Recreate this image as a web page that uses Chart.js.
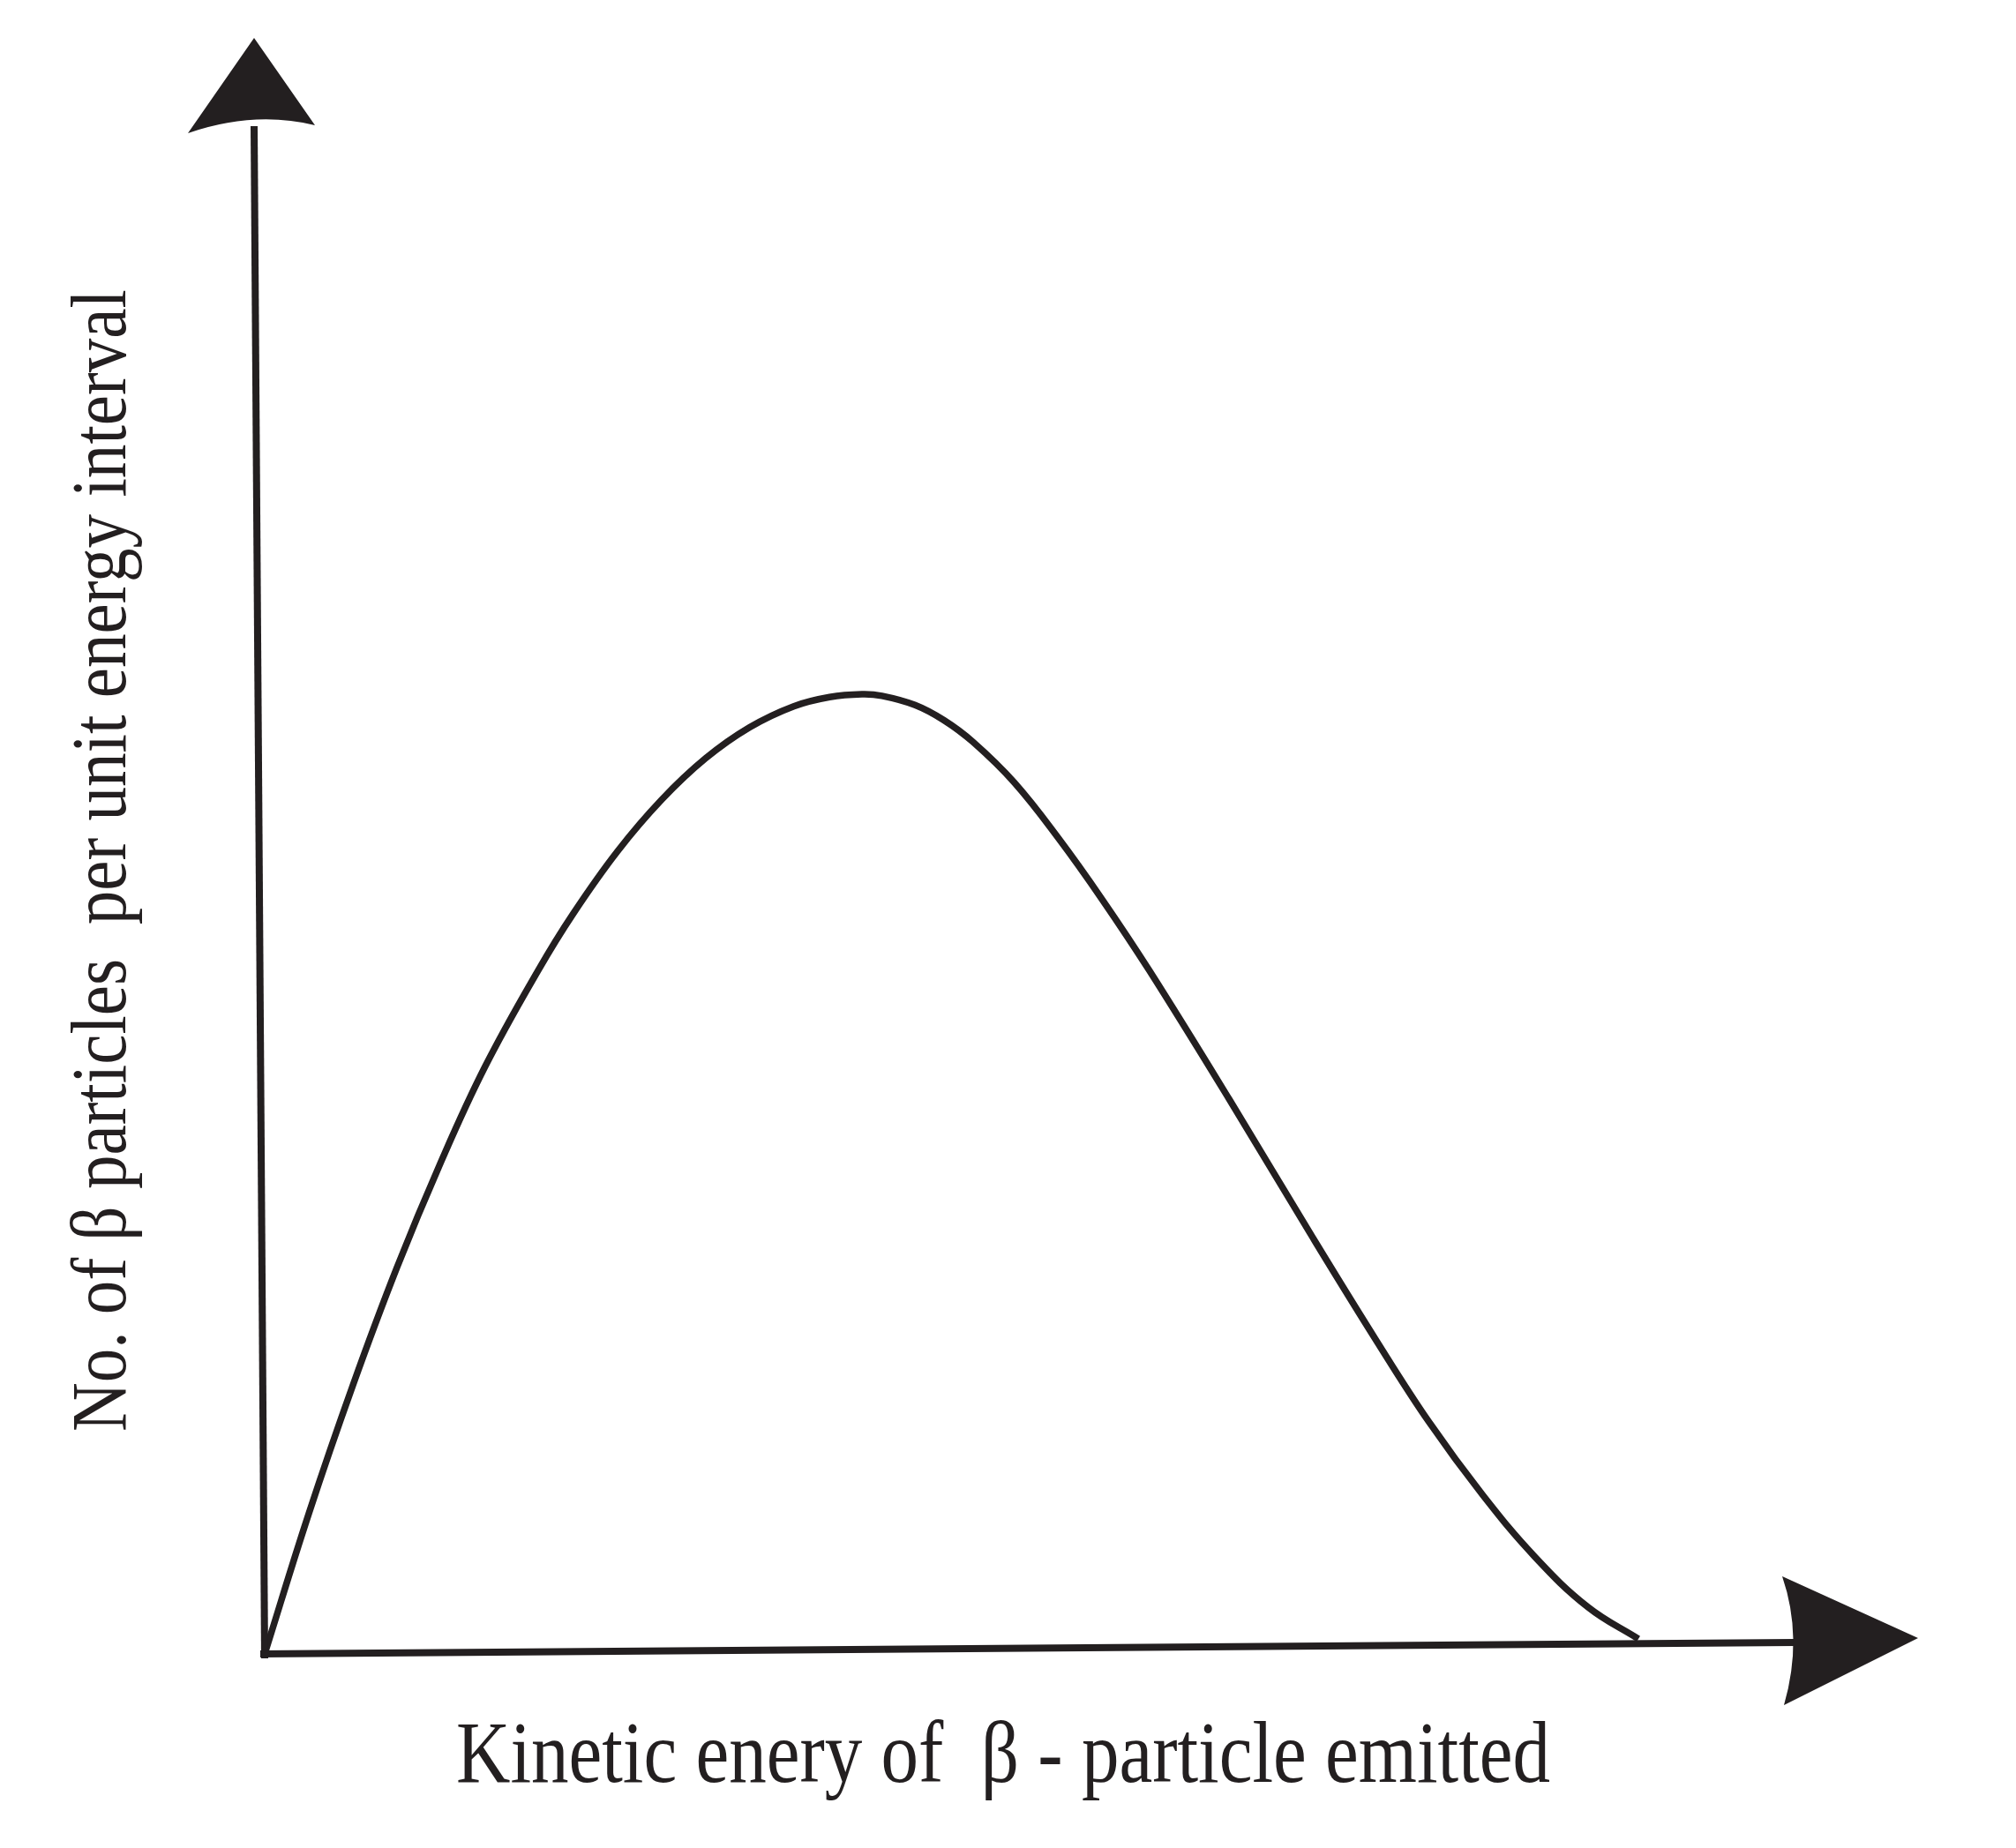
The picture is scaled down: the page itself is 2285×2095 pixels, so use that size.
<!DOCTYPE html>
<html>
<head>
<meta charset="utf-8">
<script src="https://cdn.jsdelivr.net/npm/chart.js@4.4.1/dist/chart.umd.min.js"></script>
<style>
  html, body { margin: 0; padding: 0; background: #fff; }
  #wrap { width: 2285px; height: 2095px; }
</style>
</head>
<body>
<div id="wrap"><canvas id="myChart" width="2285" height="2095"></canvas></div>
<script>
// kinetic energy of the emitted beta particle (arbitrary units, end point = 100)
let energy = [0, 3.2, 6.4, 9.6, 12.8, 16, 19.85, 22.4, 25.6, 28.8, 32, 35.2, 38.4, 41, 43.35, 44.8, 47.2, 49.3, 51.4, 54.4, 57.6, 60.8, 64.2, 70, 75.9, 80.7, 84.5, 88.4, 92.2, 96.05, 99.7];
// number of beta particles per unit energy interval (arbitrary units)
let counts = [0, 8.68, 16.62, 23.91, 30.46, 36.35, 42.3, 45.82, 49.66, 52.85, 55.42, 57.34, 58.64, 59.21, 59.39, 59.29, 58.72, 57.78, 56.44, 53.93, 50.49, 46.67, 42.3, 34.33, 26, 19.37, 14.36, 9.84, 6, 2.89, 0.93];
let xLabel = 'Kinetic enery of  β - particle emitted';
let yLabel = 'No. of β particles  per unit energy interval';
let xMax = 120;
let yMax = 100;

let ink = '#231f20';
let points = energy.map((e, i) => ({ x: e, y: counts[i] }));

// draws the two arrowed axes and the axis titles
let sketchAxes = {
  id: 'sketchAxes',
  afterDatasetsDraw(chart) {
    let c = chart.ctx;
    let xs = chart.scales.x;
    let ys = chart.scales.y;
    let x0 = xs.getPixelForValue(0);
    let y0 = ys.getPixelForValue(0);
    let xTip = xs.getPixelForValue(xMax);
    let yTip = ys.getPixelForValue(yMax);

    c.save();
    c.strokeStyle = ink;
    c.fillStyle = ink;
    c.lineWidth = 8;
    c.lineCap = 'butt';

    // y axis (a little tilted, like the drawing)
    c.beginPath();
    c.moveTo(x0, y0 + 5);
    c.lineTo(x0 - 12, yTip + 100);
    c.stroke();

    // x axis
    c.beginPath();
    c.moveTo(x0 - 5, y0);
    c.lineTo(xTip - 140, y0 - 13);
    c.stroke();

    // y arrow head
    let ax = x0 - 12;
    c.beginPath();
    c.moveTo(ax, yTip);
    c.lineTo(ax + 69, yTip + 99);
    c.quadraticCurveTo(ax, yTip + 82, ax - 75, yTip + 108);
    c.closePath();
    c.fill();

    // x arrow head
    let ay = y0 - 18;
    c.beginPath();
    c.moveTo(xTip, ay);
    c.lineTo(xTip - 152, ay + 76);
    c.quadraticCurveTo(xTip - 130, ay, xTip - 154, ay - 70);
    c.closePath();
    c.fill();

    // axis titles, condensed serif
    c.textBaseline = 'alphabetic';
    c.textAlign = 'left';
    c.font = '100px "Liberation Serif", serif';
    let w = c.measureText(xLabel).width;
    c.save();
    c.translate(517, 2020);
    c.scale(1240 / w, 1);
    c.fillText(xLabel, 0, 0);
    c.restore();

    c.font = '88px "Liberation Serif", serif';
    w = c.measureText(yLabel).width;
    c.save();
    c.translate(142, 1623);
    c.rotate(-Math.PI / 2);
    c.scale(1295 / w, 1);
    c.fillText(yLabel, 0, 0);
    c.restore();

    c.restore();
  }
};

let myChart = new Chart(document.getElementById('myChart').getContext('2d'), {
  type: 'line',
  data: {
    datasets: [{
      data: points,
      borderColor: ink,
      borderWidth: 7.5,
      pointRadius: 0,
      tension: 0.4,
      fill: false,
      clip: false
    }]
  },
  options: {
    responsive: false,
    animation: false,
    events: [],
    layout: {
      padding: { left: 300, right: 111, top: 43, bottom: 220 }
    },
    scales: {
      x: { type: 'linear', min: 0, max: xMax, display: false },
      y: { type: 'linear', min: 0, max: yMax, display: false }
    },
    plugins: {
      legend: { display: false },
      tooltip: { enabled: false }
    }
  },
  plugins: [sketchAxes]
});
</script>
</body>
</html>
